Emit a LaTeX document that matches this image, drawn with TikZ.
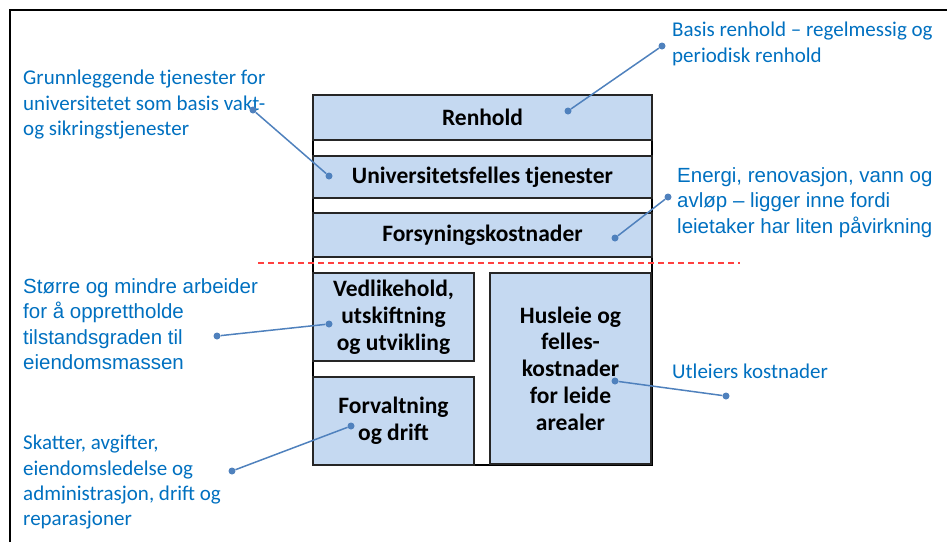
\documentclass[tikz,border=0pt]{standalone}
\usepackage{fontspec}
\setmainfont{Carlito}
\newfontfamily\arialfont{Liberation Sans}
\definecolor{boxblue}{RGB}{197,217,241}
\definecolor{noteblue}{RGB}{0,112,192}
\definecolor{lineblue}{RGB}{79,129,189}
\definecolor{cutred}{RGB}{255,64,64}
\begin{document}
\begin{tikzpicture}[x=1pt, y=-1pt,
    box/.style={draw=black!85, line width=1.5pt, fill=boxblue, align=center, inner sep=0pt,
                font=\fontsize{23.5}{26.8}\selectfont\bfseries},
    note/.style={text=noteblue, align=left, anchor=north west, inner sep=0pt,
                 font=\fontsize{21}{25.3}\selectfont},
    arialnote/.style={note, font=\arialfont\fontsize{20.5}{25.5}\selectfont},
    dot/.style={circle, fill=lineblue, inner sep=0pt, minimum size=7pt},
    link/.style={lineblue, line width=1.5pt}]
    \useasboundingbox (0,0) rectangle (947,542);
    % Frame
    \draw[line width=2pt] (10,542) -- (10,10) -- (947,10);
    % Outer box
    \node[draw, line width=2.5pt, fill=white, minimum width=339pt, minimum height=370pt] (outer) at (482.5,280) {};
    % Upper boxes
    \node[box, minimum width=339pt, minimum height=45pt] (renhold) at (482.5,117.5) {Renhold};
    \node[box, minimum width=339pt, minimum height=42pt] (univ) at (482.5,177) {Universitetsfelles tjenester};
    \node[box, minimum width=339pt, minimum height=44pt] (forsyning) at (482.5,235) {Forsyningskostnader};
    % Cut line
    \draw[cutred, line width=1.2pt, dash pattern=on 6pt off 4pt] (258,263) -- (740,263);
    % Lower boxes
    \node[box, minimum width=161pt, minimum height=88pt] (vedlikehold) at (393.5,317) {Vedlikehold,\\utskiftning\\og utvikling};
    \node[box, minimum width=161pt, minimum height=88pt] (forvaltning) at (393.5,421) {Forvaltning\\og drift};
    \node[box, minimum width=161pt, minimum height=191pt] (husleie) at (570.5,368.5) {Husleie og\\felles-\\kostnader\\for leide\\arealer};
    % Notes
    \node[note] (noteunivn) at (23,70) {Grunnleggende tjenester for\\universitetet som basis vakt-\\og sikringstjenester};
    \node[note] (noterenhold) at (672,22) {Basis renhold – regelmessig og\\periodisk renhold};
    \node[arialnote] (noteforsyning) at (677,167) {Energi, renovasjon, vann og\\avløp – ligger inne fordi\\leietaker har liten påvirkning};
    \node[arialnote] (notevedlikehold) at (23,278) {Større og mindre arbeider\\for å opprettholde\\tilstandsgraden til\\eiendomsmassen};
    \node[note] (noteforvaltning) at (23,435) {Skatter, avgifter,\\eiendomsledelse og\\administrasjon, drift og\\reparasjoner};
    \node[note] (notehusleie) at (672,364) {Utleiers kostnader};
    % Connectors
    \node[dot] (univa) at (253,110) {};
    \node[dot] (univb) at (329,176) {};
    \node[dot] (renholda) at (662,46) {};
    \node[dot] (renholdb) at (568,111) {};
    \node[dot] (forsyninga) at (668,197) {};
    \node[dot] (forsyningb) at (615,238) {};
    \node[dot] (vedlikeholda) at (217,336) {};
    \node[dot] (vedlikeholdb) at (329,324) {};
    \node[dot] (forvaltninga) at (232,471) {};
    \node[dot] (forvaltningb) at (351,426) {};
    \node[dot] (husleiea) at (726,396) {};
    \node[dot] (husleieb) at (615,381) {};
    \draw[link] (univa) -- (univb);
    \draw[link] (renholda) -- (renholdb);
    \draw[link] (forsyninga) -- (forsyningb);
    \draw[link] (vedlikeholda) -- (vedlikeholdb);
    \draw[link] (forvaltninga) -- (forvaltningb);
    \draw[link] (husleiea) -- (husleieb);
\end{tikzpicture}
\end{document}
